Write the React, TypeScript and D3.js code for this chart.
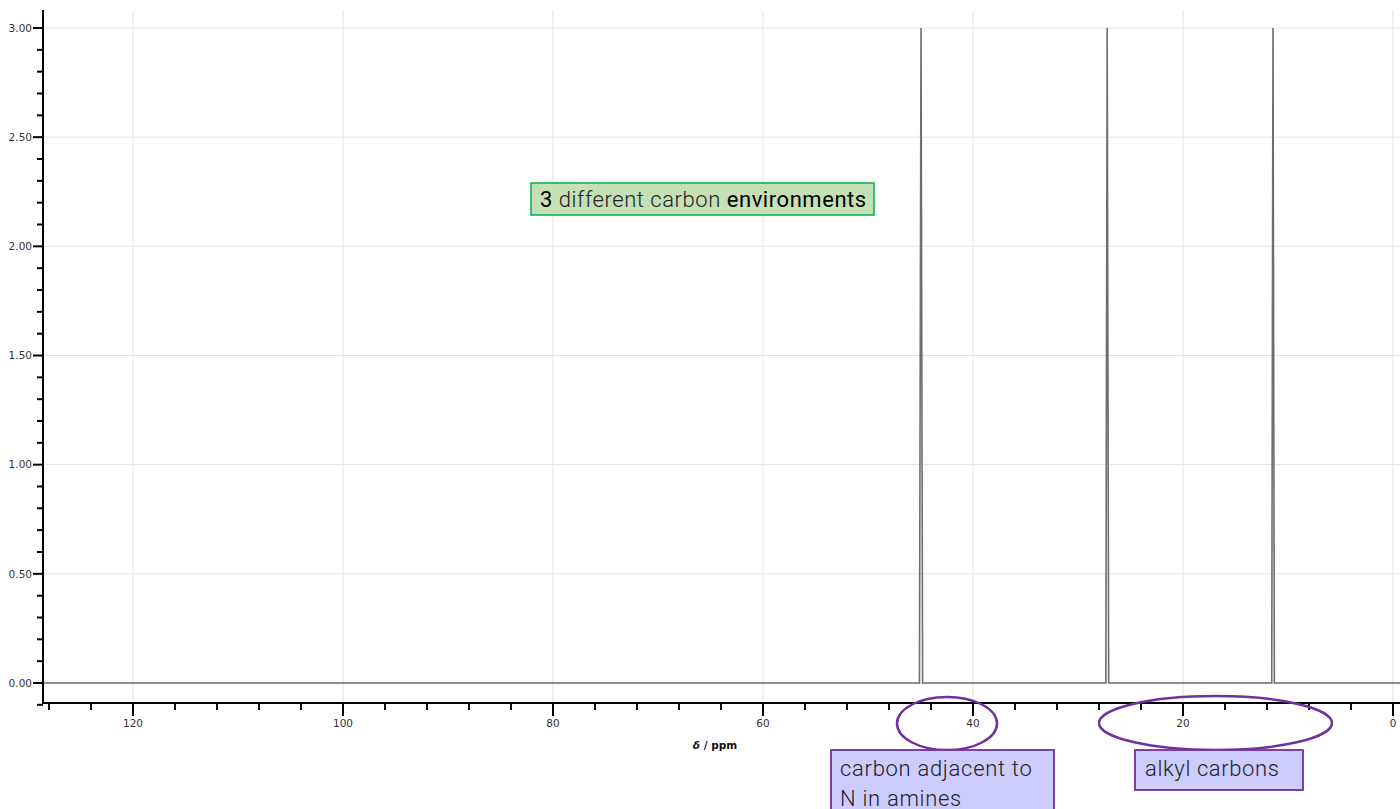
import React from "react";
import * as d3 from "d3";

// Spectrum points: [ppm, intensity]
const spectrum: [number, number][] = [
  [128.6, 0], [45.1, 0], [44.95, 3.0], [44.8, 0],
  [27.35, 0], [27.22, 3.0], [27.08, 0],
  [11.55, 0], [11.43, 3.0], [11.3, 0],
  [-0.7, 0],
];
const xMajorTicks = [120, 100, 80, 60, 40, 20, 0];
const xMinorTicks = [128, 124, 116, 112, 108, 104, 96, 92, 88, 84, 76, 72, 68, 64, 56, 52, 48, 44, 36, 32, 28, 24, 16, 12, 8, 4];
const yMajorTicks = [0, 0.5, 1.0, 1.5, 2.0, 2.5, 3.0];
const yMinorTicks = [-0.1, 0.1, 0.2, 0.3, 0.4, 0.6, 0.7, 0.8, 0.9, 1.1, 1.2, 1.3, 1.4, 1.6, 1.7, 1.8, 1.9, 2.1, 2.2, 2.3, 2.4, 2.6, 2.7, 2.8, 2.9];

const W = 1400, H = 809;
const L = 43, R = 1400, T = 10, B = 703;

export default function App() {
  const x = d3.scaleLinear().domain([128.571, -0.667]).range([L, R]);
  const y = d3.scaleLinear().domain([-0.0916, 3.0824]).range([B, T]);
  const line = d3.line<[number, number]>().x(d => x(d[0])).y(d => y(d[1]));
  const tickFont = "'DejaVu Sans', Verdana, sans-serif";
  const annFont = "Roboto, 'Open Sans', sans-serif";
  return (
    <svg width={W} height={H} style={{ position: "absolute", left: 0, top: 0, background: "#fff" }}>
      {/* grid */}
      {xMajorTicks.map(t => (
        <line key={"gx" + t} x1={x(t)} x2={x(t)} y1={T} y2={B} stroke="#e2e2e2" strokeWidth={1} />
      ))}
      {yMajorTicks.map(t => (
        <line key={"gy" + t} x1={L} x2={R} y1={y(t)} y2={y(t)} stroke="#e2e2e2" strokeWidth={1} />
      ))}
      {/* spectrum */}
      <path d={line(spectrum) || ""} fill="none" stroke="#6e6e6e" strokeWidth={1.6} />
      {/* axes */}
      <line x1={L} x2={L} y1={T} y2={B + 1} stroke="#000" strokeWidth={2} />
      <line x1={L} x2={R} y1={B} y2={B} stroke="#000" strokeWidth={2} />
      {yMajorTicks.map(t => (
        <g key={"yt" + t}>
          <line x1={L - 10} x2={L} y1={y(t)} y2={y(t)} stroke="#000" strokeWidth={2} />
          <text x={L - 11} y={y(t)} dy="0.35em" textAnchor="end" fontFamily={tickFont} fontSize={10.5} fill="#333">
            {t.toFixed(2)}
          </text>
        </g>
      ))}
      {yMinorTicks.map(t => (
        <line key={"ym" + t} x1={L - 6} x2={L} y1={y(t)} y2={y(t)} stroke="#000" strokeWidth={2} />
      ))}
      {xMajorTicks.map(t => (
        <g key={"xt" + t}>
          <line x1={x(t)} x2={x(t)} y1={B} y2={B + 13} stroke="#000" strokeWidth={2} />
          <text x={x(t)} y={727} textAnchor="middle" fontFamily={tickFont} fontSize={10.5} fill="#333">
            {t}
          </text>
        </g>
      ))}
      {xMinorTicks.map(t => (
        <line key={"xm" + t} x1={x(t)} x2={x(t)} y1={B} y2={B + 7} stroke="#000" strokeWidth={2} />
      ))}
      <text x={715} y={749} textAnchor="middle" fontFamily={tickFont} fontSize={10.5} fontWeight="bold" fill="#111">
        <tspan fontStyle="italic">δ</tspan> / ppm
      </text>
      {/* green annotation */}
      <rect x={531} y={183} width={343} height={32} fill="#c5e0b4" stroke="#00b050" strokeWidth={1.5} />
      <text x={540} y={207} fontFamily={annFont} fontSize={22} fill="#222" fontWeight={300} letterSpacing={0.55}>
        <tspan fontWeight={400} fill="#000">3</tspan> different carbon <tspan fontWeight={400} fill="#000">environments</tspan>
      </text>
      {/* ellipses */}
      <ellipse cx={947} cy={723.5} rx={50} ry={26.5} fill="none" stroke="#7030a0" strokeWidth={2.5} />
      <ellipse cx={1215.5} cy={723} rx={116.5} ry={27} fill="none" stroke="#7030a0" strokeWidth={2.5} />
      {/* purple boxes */}
      <rect x={831} y={750} width={223} height={70} fill="#ccccff" stroke="#7030a0" strokeWidth={1.8} />
      <text fontFamily={annFont} fontSize={22} fill="#222" fontWeight={300} letterSpacing={0.7}>
        <tspan x={840} y={776}>carbon adjacent to</tspan>
        <tspan x={840} y={806}>N in amines</tspan>
      </text>
      <rect x={1135} y={750} width={168} height={40} fill="#ccccff" stroke="#7030a0" strokeWidth={1.8} />
      <text x={1145} y={776} fontFamily={annFont} fontSize={22} fill="#222" fontWeight={300} letterSpacing={0.6}>alkyl carbons</text>
    </svg>
  );
}
